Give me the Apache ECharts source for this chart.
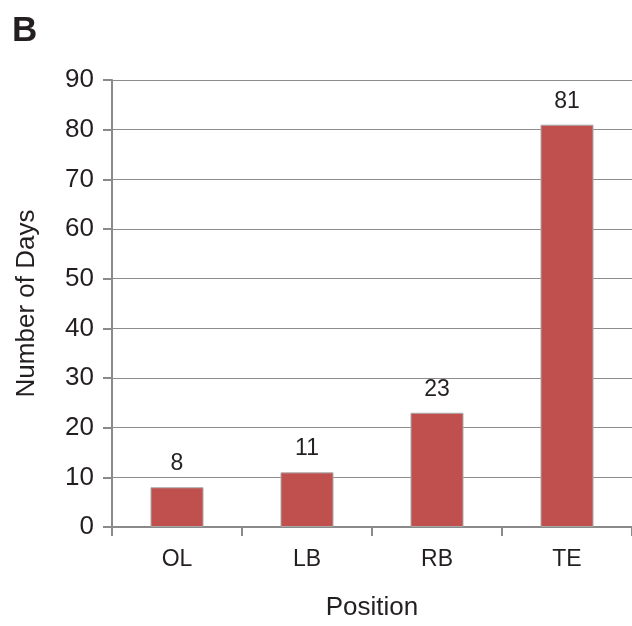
<!DOCTYPE html>
<html><head><meta charset="utf-8">
<script src="https://cdn.jsdelivr.net/npm/echarts@6/dist/echarts.min.js"></script>
<style>html,body{margin:0;padding:0;background:#fff;overflow:hidden}#c{width:632px;height:626px}</style>
</head><body><div id="c"></div>
<script>
const categories = ['OL', 'LB', 'RB', 'TE'];
const days = [8, 11, 23, 81];
const yTicks = { min: 0, max: 90, interval: 10 };

const chart = echarts.init(document.getElementById('c'), null, { renderer: 'canvas', width: 632, height: 626 });
const font = '"Liberation Sans", Arial, sans-serif';
chart.setOption({
  animation: false,
  title: { text: 'B', left: 7, top: 9, textStyle: { fontFamily: font, fontWeight: 'bold', fontSize: 35, color: '#231f20' } },
  grid: { left: 112, top: 80, width: 528, height: 452, containLabel: false },
  xAxis: {
    type: 'category', data: categories,
    name: 'Position', nameLocation: 'middle', nameGap: 68,
    nameTextStyle: { fontFamily: font, fontSize: 26, color: '#231f20' },
    axisLine: { lineStyle: { color: '#8a8a8a', width: 2 } },
    axisTick: { show: true, length: 9, alignWithLabel: false, lineStyle: { color: '#8a8a8a', width: 2 } },
    axisLabel: { margin: 21, fontFamily: font, fontSize: 23, color: '#231f20' }
  },
  yAxis: {
    type: 'value', min: yTicks.min, max: yTicks.max, interval: yTicks.interval,
    name: 'Number of Days', nameLocation: 'middle', nameGap: 72,
    nameTextStyle: { fontFamily: font, fontSize: 26, color: '#231f20' },
    axisLine: { show: true, lineStyle: { color: '#8a8a8a', width: 2 } },
    axisTick: { show: true, length: 9, lineStyle: { color: '#8a8a8a', width: 2 } },
    axisLabel: { margin: 18, fontFamily: font, fontSize: 26, color: '#231f20' },
    splitLine: { show: true, lineStyle: { color: '#8c8c8c', width: 1 } }
  },
  series: [{
    type: 'bar', data: days, barWidth: 53,
    itemStyle: { color: '#c0504d', borderColor: '#a9a9a9', borderWidth: 1 },
    label: { show: true, position: 'top', distance: 12, fontFamily: font, fontSize: 23, color: '#231f20' }
  }]
});
</script></body></html>
